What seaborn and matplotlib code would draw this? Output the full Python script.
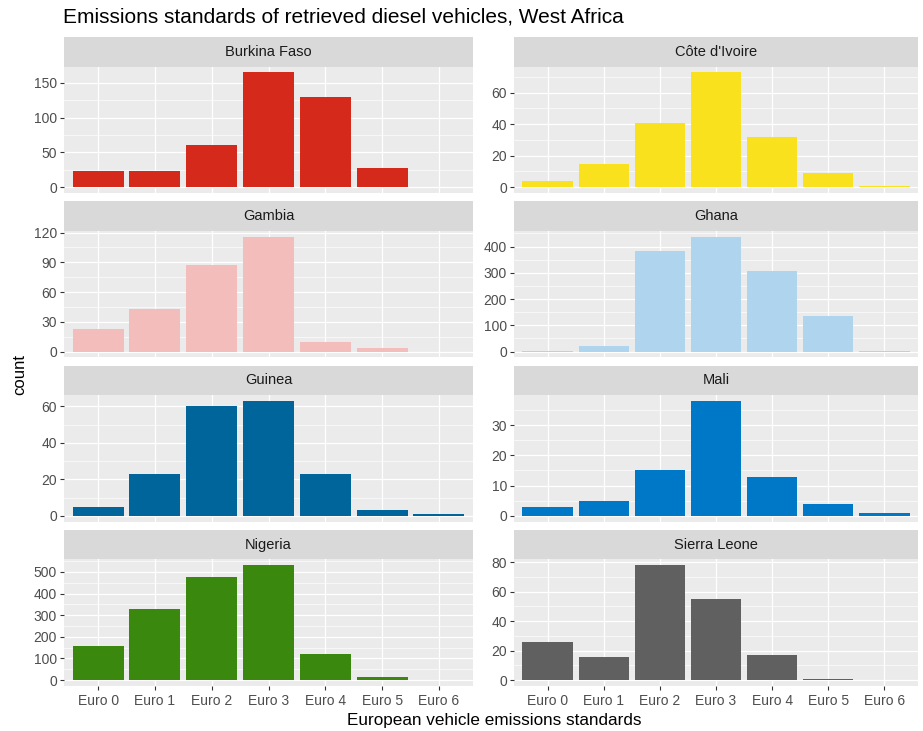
import pandas as pd
import seaborn as sns
import matplotlib.pyplot as plt
from matplotlib.ticker import MultipleLocator

# Datos
standards = ["Euro 0", "Euro 1", "Euro 2", "Euro 3", "Euro 4", "Euro 5", "Euro 6"]
countries = ["Burkina Faso", "Côte d'Ivoire", "Gambia", "Ghana",
             "Guinea", "Mali", "Nigeria", "Sierra Leone"]

burkina_faso = [24, 23, 60, 165, 130, 27, 0]
cote_divoire = [4, 15, 41, 73, 32, 9, 1]
gambia = [23, 43, 87, 116, 10, 4, 0]
ghana = [3, 22, 382, 438, 305, 135, 3]
guinea = [5, 23, 60, 63, 23, 3, 1]
mali = [3, 5, 15, 38, 13, 4, 1]
nigeria = [156, 327, 475, 531, 123, 14, 0]
sierra_leone = [26, 16, 78, 55, 17, 1, 0]

tick_steps = [50, 20, 30, 100, 20, 10, 100, 20]
colours = ["#D52A1B", "#F9E11E", "#F2BDBB", "#AED4EE",
           "#00659A", "#0078C8", "#3A880E", "#606060"]

valores = [burkina_faso, cote_divoire, gambia, ghana,
           guinea, mali, nigeria, sierra_leone]
df = pd.DataFrame({
    "country": [c for c in countries for _ in standards],
    "standard": standards * len(countries),
    "count": [v for serie in valores for v in serie],
})

plt.rcParams["font.family"] = ["Liberation Sans", "DejaVu Sans"]

W, H = 923, 731
fig = plt.figure(figsize=(W / 100, H / 100), dpi=100)

col_left = [64, 514]
col_width = [409, 404]
row_top = 37
row_pitch = 164.3
strip_h = 29.5
panel_h = 126.5


def add_px_axes(x, y, w, h):
    # coordenadas en píxeles desde arriba a la izquierda
    return fig.add_axes([x / W, 1 - (y + h) / H, w / W, h / H])


for i, country in enumerate(countries):
    row, col = divmod(i, 2)
    x0 = col_left[col]
    w = col_width[col]
    y_strip = row_top + row * row_pitch

    # tira con el nombre del país
    sax = add_px_axes(x0, y_strip, w, strip_h)
    sax.set_facecolor("#D9D9D9")
    sax.set_xticks([])
    sax.set_yticks([])
    for s in sax.spines.values():
        s.set_visible(False)
    sax.text(0.5, 0.5, country, ha="center", va="center",
             fontsize=10.5, color="#1A1A1A", transform=sax.transAxes)

    ax = add_px_axes(x0, y_strip + strip_h, w, panel_h)
    ax.set_facecolor("#EBEBEB")
    sub = df[df["country"] == country]
    sns.barplot(data=sub, x="standard", y="count", order=standards,
                color=colours[i], saturation=1, width=0.9, ax=ax,
                edgecolor="none", linewidth=0)

    ymax = sub["count"].max()
    ax.set_ylim(-0.05 * ymax, 1.05 * ymax)
    ax.set_xlim(-0.6, 6.6)
    ax.yaxis.set_major_locator(MultipleLocator(tick_steps[i]))
    ax.yaxis.set_minor_locator(MultipleLocator(tick_steps[i] / 2))
    ax.set_axisbelow(True)
    ax.grid(which="major", color="white", linewidth=0.9)
    ax.grid(which="minor", axis="y", color="white", linewidth=0.45)
    for s in ax.spines.values():
        s.set_visible(False)
    ax.set_xlabel("")
    ax.set_ylabel("")
    ax.tick_params(axis="y", which="major", length=3, width=0.8,
                   color="#333333", labelcolor="#4D4D4D", labelsize=10, pad=2)
    ax.tick_params(axis="y", which="minor", length=0)
    if row == 3:
        ax.tick_params(axis="x", length=3, width=0.8, color="#333333",
                       labelcolor="#4D4D4D", labelsize=10, pad=3)
    else:
        ax.tick_params(axis="x", length=0, labelbottom=False)

fig.text(63 / W, 1 - 17 / H, "Emissions standards of retrieved diesel vehicles, West Africa",
         ha="left", va="center", fontsize=15, color="black")
fig.text(494 / W, 1 - 720 / H, "European vehicle emissions standards",
         ha="center", va="center", fontsize=12.3, color="black")
fig.text(20 / W, 1 - 375 / H, "count", ha="center", va="center",
         rotation=90, fontsize=12, color="black")

fig.savefig("out.png", dpi=100, facecolor="white")
